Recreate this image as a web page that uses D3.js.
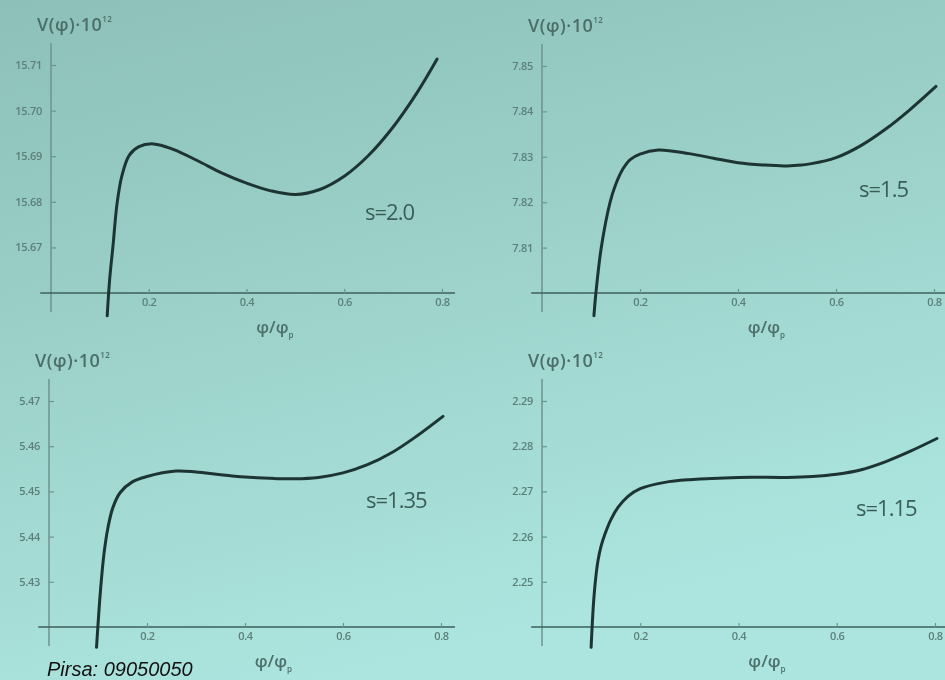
<!DOCTYPE html>
<head>
  <meta charset='utf-8'>
  <title>V(phi) for several s</title>
  <script src="https://cdnjs.cloudflare.com/ajax/libs/d3/7.8.5/d3.min.js"></script>
  <style>
    body { margin: 0; background: #9ccfc8; }
    svg text { font-family: "Open Sans", "DejaVu Sans", sans-serif; }
    .tick text { font-size: 11px; fill: #5d7f7a; font-weight: 600; letter-spacing: -0.3px; }
    .vlabel { font-size: 18px; font-weight: 600; fill: #4c6e69; letter-spacing: 0.5px; }
    .slabel { font-size: 22px; fill: #3b5d58; letter-spacing: -1px; }
    .xlabel { font-size: 17px; font-weight: 600; fill: #4d6f6a; }
    .pirsa { font-family: "Liberation Sans", Arial, sans-serif; font-style: italic; font-size: 20px; fill: #111; }
  </style>
</head>

<body>
  <div id="chart"></div>
  <script type="text/javascript">
    var width = 945,
        height = 680;

    // data
    var sLabels = ["s=2.0", "s=1.5", "s=1.35", "s=1.15"];
    var xTicks = [0.2, 0.4, 0.6, 0.8];

    var yTicksA = [15.67, 15.68, 15.69, 15.70, 15.71];
    var yTicksB = [7.81, 7.82, 7.83, 7.84, 7.85];
    var yTicksC = [5.43, 5.44, 5.45, 5.46, 5.47];
    var yTicksD = [2.25, 2.26, 2.27, 2.28, 2.29];

    var phiA = [0.115, 0.12, 0.127, 0.135, 0.145, 0.16, 0.18, 0.21, 0.25, 0.3, 0.35, 0.4, 0.45, 0.5, 0.55, 0.6, 0.65, 0.7, 0.75, 0.79];
    var vA   = [15.655, 15.663, 15.6705, 15.6795, 15.6857, 15.6902, 15.6921, 15.6927, 15.6915, 15.689, 15.6863, 15.6841, 15.6824, 15.6816, 15.6827, 15.6856, 15.6902, 15.6964, 15.7041, 15.7113];

    var phiB = [0.106, 0.11, 0.121, 0.139, 0.15, 0.165, 0.18, 0.2, 0.237, 0.3, 0.35, 0.4, 0.45, 0.5, 0.55, 0.6, 0.65, 0.7, 0.75, 0.804];
    var vB   = [7.795, 7.80, 7.81, 7.82, 7.8238, 7.8273, 7.8294, 7.8306, 7.8315, 7.8307, 7.8297, 7.8287, 7.8282, 7.828, 7.8285, 7.8298, 7.8324, 7.836, 7.8403, 7.8455];

    var phiC = [0.097, 0.1, 0.105, 0.112, 0.12, 0.13, 0.145, 0.17, 0.2, 0.259, 0.3, 0.35, 0.4, 0.45, 0.5, 0.55, 0.6, 0.65, 0.7, 0.75, 0.804];
    var vC   = [5.4155, 5.4205, 5.428, 5.436, 5.4418, 5.4463, 5.4497, 5.4521, 5.4533, 5.4545, 5.4543, 5.4537, 5.4532, 5.4529, 5.4528, 5.4531, 5.4541, 5.4559, 5.4586, 5.4622, 5.4666];

    var phiD = [0.1, 0.102, 0.105, 0.109, 0.114, 0.12, 0.128, 0.14, 0.155, 0.175, 0.2, 0.25, 0.3, 0.4, 0.5, 0.55, 0.6, 0.65, 0.7, 0.75, 0.804];
    var vD   = [2.2355, 2.24, 2.2455, 2.2505, 2.2547, 2.2578, 2.2605, 2.2637, 2.2665, 2.2689, 2.2706, 2.272, 2.2726, 2.2731, 2.2731, 2.2733, 2.2738, 2.2748, 2.2766, 2.2789, 2.2817];

    var panels = [
      { s: sLabels[0], phi: phiA, v: vA, yTicks: yTicksA, vMin: 15.66, vMax: 15.71,
        xr: [51, 442], yr: [293, 65], axisEnd: 455, sPos: [365, 220] },
      { s: sLabels[1], phi: phiB, v: vB, yTicks: yTicksB, vMin: 7.80, vMax: 7.85,
        xr: [542, 934], yr: [293, 66], axisEnd: 945, sPos: [859, 197] },
      { s: sLabels[2], phi: phiC, v: vC, yTicks: yTicksC, vMin: 5.42, vMax: 5.47,
        xr: [49, 441], yr: [627, 401], axisEnd: 455, sPos: [366, 508] },
      { s: sLabels[3], phi: phiD, v: vD, yTicks: yTicksD, vMin: 2.24, vMax: 2.29,
        xr: [542, 935], yr: [627, 401], axisEnd: 945, sPos: [856, 516] }
    ];

    var svg = d3.select("#chart").append("svg")
        .attr("width", width)
        .attr("height", height);

    var defs = svg.append("defs");
    var grad = defs.append("linearGradient")
        .attr("id", "bg")
        .attr("x1", 0).attr("y1", 0)
        .attr("x2", 0.35).attr("y2", 1);
    grad.append("stop").attr("offset", "0%").attr("stop-color", "#8cc0b8");
    grad.append("stop").attr("offset", "50%").attr("stop-color", "#9cd2ca");
    grad.append("stop").attr("offset", "100%").attr("stop-color", "#ace5df");

    defs.append("filter").attr("id", "soft")
      .append("feGaussianBlur").attr("stdDeviation", 0.45);

    svg.append("rect")
        .attr("width", width)
        .attr("height", height)
        .attr("fill", "url(#bg)");

    var root = svg.append("g").attr("filter", "url(#soft)");

    panels.forEach(function(p) {
      var x = d3.scaleLinear().domain([0, 0.8]).range(p.xr);
      var y = d3.scaleLinear().domain([p.vMin, p.vMax]).range(p.yr);
      var g = root.append("g");
      var x0 = x(0), yBase = y(p.vMin);

      // y axis
      g.append("line")
          .attr("x1", x0).attr("x2", x0)
          .attr("y1", y(p.vMax) - 22).attr("y2", yBase + 19)
          .attr("stroke", "#6f938e")
          .attr("stroke-width", 1.5);

      var yAxis = g.append("g")
          .attr("transform", "translate(" + x0 + ",0)")
          .call(d3.axisLeft(y).tickValues(p.yTicks).tickSize(-5).tickPadding(9)
            .tickFormat(d3.format(".2f")));
      yAxis.select(".domain").remove();
      yAxis.selectAll(".tick line").attr("stroke", "#6f938e").attr("stroke-width", 1.2);

      // x axis
      g.append("line")
          .attr("x1", x(-0.022)).attr("x2", p.axisEnd)
          .attr("y1", yBase).attr("y2", yBase)
          .attr("stroke", "#3f605b")
          .attr("stroke-width", 1.6);

      var xAxis = g.append("g")
          .attr("transform", "translate(0," + yBase + ")")
          .call(d3.axisBottom(x).tickValues(xTicks).tickSize(-4).tickPadding(5)
            .tickFormat(d3.format(".1f")));
      xAxis.select(".domain").remove();
      xAxis.selectAll(".tick line").attr("stroke", "#6f938e").attr("stroke-width", 1.2);

      // curve
      var pts = p.phi.map(function(d, i) { return [d, p.v[i]]; });
      g.append("path")
          .datum(pts)
          .attr("fill", "none")
          .attr("stroke", "#1d3533")
          .attr("stroke-width", 3)
          .attr("stroke-linecap", "round")
          .attr("d", d3.line()
            .x(function(d) { return x(d[0]); })
            .y(function(d) { return y(d[1]); })
            .curve(d3.curveCatmullRom.alpha(0.5)));

      // labels
      var vl = g.append("text")
          .attr("class", "vlabel")
          .attr("x", x0 - 14)
          .attr("y", y(p.vMax) - 34);
      vl.append("tspan").text("V(φ)·10");
      vl.append("tspan").attr("dy", -9).style("font-size", "8px").text("12");

      var xl = g.append("text")
          .attr("class", "xlabel")
          .attr("x", x(0.42))
          .attr("y", yBase + 40);
      xl.append("tspan").text("φ/φ");
      xl.append("tspan").attr("dy", 5).style("font-size", "8px").text("p");

      g.append("text")
          .attr("class", "slabel")
          .attr("x", p.sPos[0])
          .attr("y", p.sPos[1])
          .text(p.s);
    });

    svg.append("text")
        .attr("class", "pirsa")
        .attr("x", 47)
        .attr("y", 676)
        .text("Pirsa: 09050050");
  </script>
</body>
